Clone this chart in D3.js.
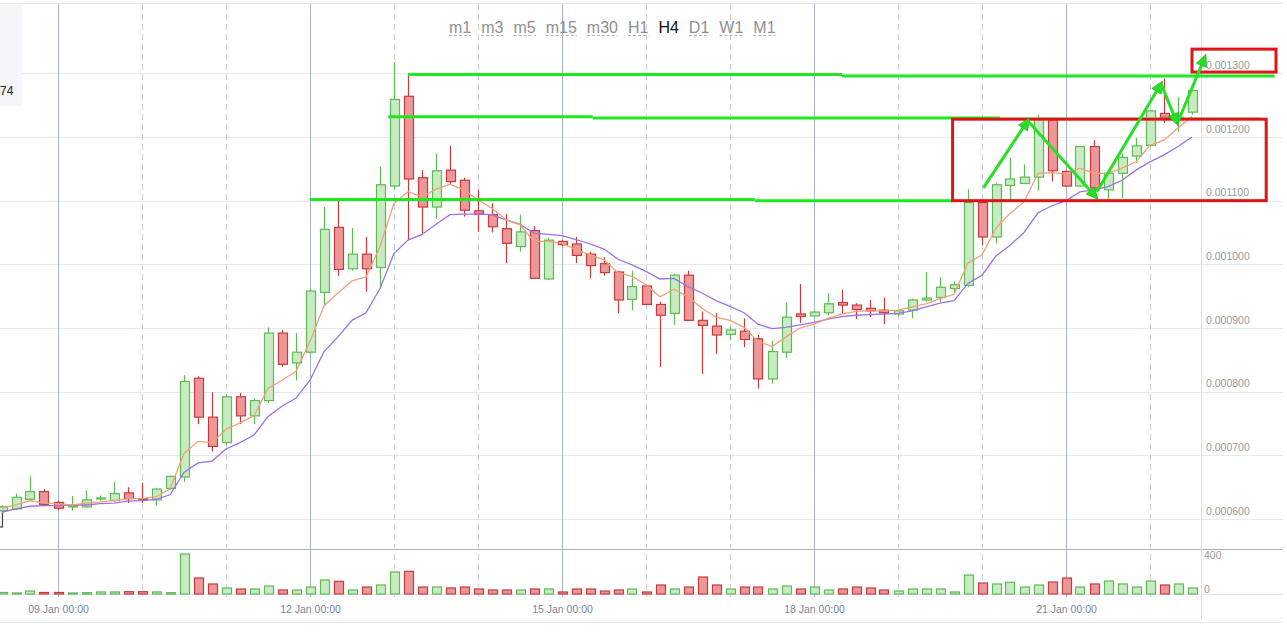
<!DOCTYPE html>
<html><head><meta charset="utf-8">
<script src="https://cdn.jsdelivr.net/npm/d3@7/dist/d3.min.js"></script>
<style>
html,body{margin:0;padding:0;background:#fff;overflow:hidden}
svg{display:block;font-family:"Liberation Sans",Arial,sans-serif}
</style></head><body>
<svg id="chart" width="1287" height="633"></svg>
<script>
// ---------- data (4H candles) ----------
const startTime = "2018-01-08T08:00:00Z";
const candleHours = 4;
const open = [0.000613,0.000616,0.000631,0.000643,0.000626,0.000619,0.000619,0.000632,0.000629,0.000641,0.000632,0.000630,0.000648,0.000666,0.000821,0.000760,0.000720,0.000792,0.000762,0.000786,0.000892,0.000845,0.000862,0.000956,0.001058,0.000993,0.001016,0.000995,0.001123,0.001264,0.001136,0.001090,0.001148,0.001132,0.001084,0.001078,0.001056,0.001028,0.001053,0.000977,0.001036,0.001032,0.001016,0.001001,0.000988,0.000945,0.000966,0.000937,0.000923,0.000983,0.000912,0.000903,0.000890,0.000895,0.000883,0.000820,0.000862,0.000922,0.000919,0.000924,0.000940,0.000936,0.000931,0.000928,0.000922,0.000928,0.000944,0.000948,0.000962,0.000967,0.001097,0.001043,0.001124,0.001127,0.001137,0.001227,0.001146,0.001123,0.001185,0.001117,0.001143,0.001170,0.001187,0.001237,0.001227,0.001239];
const high = [0.000622,0.000640,0.000667,0.000647,0.000629,0.000636,0.000645,0.000637,0.000658,0.000650,0.000657,0.000649,0.000668,0.000826,0.000824,0.000799,0.000795,0.000798,0.000789,0.000901,0.000897,0.000892,0.000961,0.001090,0.001101,0.001057,0.001043,0.001153,0.001318,0.001299,0.001148,0.001174,0.001186,0.001136,0.001117,0.001096,0.001079,0.001078,0.001060,0.001042,0.001038,0.001043,0.001020,0.001011,0.000989,0.000990,0.000967,0.000941,0.000985,0.000990,0.000926,0.000923,0.000902,0.000915,0.000889,0.000880,0.000940,0.000969,0.000927,0.000955,0.000960,0.000939,0.000944,0.000948,0.000928,0.000946,0.000988,0.000980,0.000973,0.001118,0.001099,0.001128,0.001168,0.001157,0.001235,0.001228,0.001147,0.001186,0.001195,0.001146,0.001174,0.001198,0.001242,0.001292,0.001263,0.001274];
const low = [0.000610,0.000614,0.000630,0.000620,0.000614,0.000613,0.000618,0.000629,0.000627,0.000625,0.000625,0.000621,0.000646,0.000658,0.000749,0.000706,0.000716,0.000749,0.000749,0.000782,0.000839,0.000818,0.000859,0.000935,0.000982,0.000990,0.000957,0.000962,0.001117,0.001039,0.001049,0.001071,0.001125,0.001075,0.001051,0.001050,0.001002,0.001020,0.000977,0.000975,0.001029,0.001002,0.000978,0.000982,0.000923,0.000928,0.000936,0.000839,0.000905,0.000911,0.000828,0.000859,0.000881,0.000870,0.000805,0.000813,0.000853,0.000908,0.000919,0.000920,0.000923,0.000914,0.000917,0.000906,0.000919,0.000915,0.000941,0.000941,0.000956,0.000964,0.001030,0.001033,0.001101,0.001126,0.001116,0.001130,0.001122,0.001122,0.001112,0.001101,0.001104,0.001159,0.001185,0.001222,0.001208,0.001235];
const close = [0.000619,0.000634,0.000643,0.000623,0.000617,0.000621,0.000630,0.000633,0.000640,0.000632,0.000630,0.000647,0.000667,0.000816,0.000760,0.000714,0.000792,0.000762,0.000786,0.000892,0.000843,0.000862,0.000958,0.001055,0.000992,0.001016,0.000993,0.001125,0.001259,0.001134,0.001090,0.001147,0.001130,0.001085,0.001079,0.001059,0.001033,0.001051,0.000978,0.001038,0.001031,0.001014,0.000998,0.000987,0.000944,0.000965,0.000937,0.000920,0.000983,0.000912,0.000904,0.000889,0.000897,0.000882,0.000820,0.000863,0.000917,0.000918,0.000925,0.000938,0.000936,0.000929,0.000927,0.000924,0.000927,0.000944,0.000947,0.000964,0.000968,0.001097,0.001043,0.001125,0.001134,0.001137,0.001229,0.001147,0.001123,0.001185,0.001120,0.001143,0.001168,0.001186,0.001241,0.001231,0.001231,0.001273];
const maFast = [0.000617,0.000622,0.000629,0.000625,0.000624,0.000622,0.000625,0.000627,0.000629,0.000632,0.000632,0.000635,0.000647,0.000703,0.000722,0.000720,0.000741,0.000751,0.000762,0.000805,0.000818,0.000832,0.000879,0.000935,0.000955,0.000974,0.000980,0.001028,0.001096,0.001114,0.001106,0.001118,0.001126,0.001117,0.001101,0.001088,0.001070,0.001062,0.001036,0.001036,0.001033,0.001023,0.001015,0.001007,0.000987,0.000981,0.000968,0.000949,0.000961,0.000949,0.000931,0.000917,0.000912,0.000901,0.000879,0.000871,0.000886,0.000900,0.000906,0.000915,0.000922,0.000926,0.000927,0.000927,0.000928,0.000933,0.000938,0.000946,0.000953,0.001002,0.001015,0.001057,0.001080,0.001098,0.001143,0.001144,0.001142,0.001151,0.001143,0.001143,0.001151,0.001161,0.001187,0.001195,0.001214,0.001232];
const maSlow = [0.000611,0.000616,0.000620,0.000621,0.000621,0.000622,0.000622,0.000624,0.000625,0.000628,0.000629,0.000631,0.000638,0.000673,0.000688,0.000691,0.000710,0.000720,0.000732,0.000761,0.000777,0.000790,0.000818,0.000863,0.000886,0.000912,0.000924,0.000962,0.001017,0.001038,0.001047,0.001063,0.001078,0.001079,0.001079,0.001078,0.001070,0.001063,0.001049,0.001047,0.001045,0.001039,0.001032,0.001024,0.001008,0.000999,0.000989,0.000977,0.000978,0.000965,0.000955,0.000943,0.000934,0.000924,0.000906,0.000899,0.000901,0.000905,0.000909,0.000914,0.000918,0.000920,0.000921,0.000922,0.000923,0.000927,0.000933,0.000939,0.000943,0.000970,0.000983,0.001013,0.001030,0.001050,0.001081,0.001092,0.001100,0.001114,0.001117,0.001122,0.001132,0.001148,0.001161,0.001172,0.001185,0.001200];
const volume = [18,12,35,18,18,12,15,24,24,27,27,24,15,470,188,118,71,59,59,94,47,47,82,165,149,47,82,106,259,267,82,82,71,82,59,47,47,47,59,59,24,59,59,35,47,59,24,106,59,82,200,106,59,82,82,59,94,59,82,47,59,82,71,47,35,59,59,59,24,223,129,118,138,82,106,141,188,82,118,153,118,82,153,106,118,71];

const priceTicks = [0.0006,0.0007,0.0008,0.0009,0.0010,0.0011,0.0012,0.0013];
const volumeTicks = [0, 400];
const dateTicks = ["2018-01-09T00:00:00Z","2018-01-12T00:00:00Z","2018-01-15T00:00:00Z","2018-01-18T00:00:00Z","2018-01-21T00:00:00Z"];
const timeframes = ["m1","m3","m5","m15","m30","H1","H4","D1","W1","M1"];
const activeTimeframe = "H4";
// annotations: candle index positions (fractional, 0 = first candle) and prices
const levelLines = [
  {from:29.0, to:60.0, price:0.001298},
  {from:60.0, to:90.9, price:0.001296},
  {from:27.6, to:42.2, price:0.001232},
  {from:42.2, to:71.3, price:0.001230},
  {from:22.0, to:53.8, price:0.001102},
  {from:53.8, to:67.9, price:0.001100}
];
const faintLevel = {from:71.3, to:89.8, price:0.001230};
const boxes = [
  {from:67.9, to:90.3, top:0.001228, bottom:0.001100},
  {from:85.0, to:91.0, top:0.001338, bottom:0.001302}
];
const arrows = [
  {k0:70.1, p0:0.001120, k1:73.4, p1:0.001230},
  {k0:73.2, p0:0.001227, k1:78.3, p1:0.001102},
  {k0:78.2, p0:0.001114, k1:82.9, p1:0.001288},
  {k0:82.8, p0:0.001283, k1:84.0, p1:0.001218},
  {k0:84.0, p0:0.001224, k1:86.0, p1:0.001330}
];

// ---------- scales ----------
const svg = d3.select("#chart");
const t0 = new Date(startTime);
const timeAt = k => new Date(+t0 + k * candleHours * 3600e3);
const candles = open.map((o, i) => ({t: timeAt(i), o, h: high[i], l: low[i], c: close[i], v: volume[i], f: maFast[i], s: maSlow[i]}));

const x = d3.scaleUtc().domain([new Date(dateTicks[0]), new Date(dateTicks[4])]).range([58, 1066]);
const y = d3.scaleLinear().domain([0.0006, 0.0012]).range([519, 137]);
const yv = d3.scaleLinear().domain([0, 400]).range([594, 560]);
const xk = k => x(timeAt(k));

const plotRight = 1201, gridRight = 1282;
const greenFill = "#c8ebc2", greenStroke = "#5fba57", redFill = "#ec9898", redStroke = "#c93a3c";

// ---------- background & grid ----------
const g = svg.append("g");
g.append("line").attr("x1",0).attr("x2",gridRight).attr("y1",3.5).attr("y2",3.5).attr("stroke","#e4e7ec");
g.selectAll(".hgrid").data(priceTicks).join("line")
  .attr("x1",0).attr("x2",gridRight).attr("y1",d=>Math.round(y(d))+0.5).attr("y2",d=>Math.round(y(d))+0.5)
  .attr("stroke","#e5e8ed");
g.append("line").attr("x1",0).attr("x2",gridRight).attr("y1",yv(0)+0.5).attr("y2",yv(0)+0.5).attr("stroke","#e5e8ed");
g.append("line").attr("x1",0).attr("x2",gridRight).attr("y1",549.5).attr("y2",549.5).attr("stroke","#a9b2c3");
g.append("line").attr("x1",0).attr("x2",gridRight).attr("y1",622.5).attr("y2",622.5).attr("stroke","#e2e5ea");
g.append("line").attr("x1",plotRight+0.5).attr("x2",plotRight+0.5).attr("y1",3).attr("y2",619).attr("stroke","#dde1e8");

const days = d3.utcDay.range(new Date("2018-01-09T00:00:00Z"), new Date("2018-01-23T00:00:00Z"));
g.selectAll(".vgrid").data(days).join("line")
  .attr("x1",d=>Math.round(x(d))+0.5).attr("x2",d=>Math.round(x(d))+0.5)
  .attr("y1",4).attr("y2",597)
  .attr("stroke",(d,i)=> i%3===0 ? "#aab3c5" : "#ccd1db")
  .attr("stroke-dasharray",(d,i)=> i%3===0 ? null : "6,4");

// top-left cropped label
g.append("rect").attr("x",0).attr("y",5).attr("width",22).attr("height",101).attr("fill","#f4f6f9");
g.append("text").attr("x",0).attr("y",95).attr("font-size",12).attr("fill","#222").text("74");
// cropped tooltip box at left
g.append("rect").attr("x",-8).attr("y",507).attr("width",10.5).attr("height",20).attr("fill","#f5f5f5").attr("stroke","#444").attr("stroke-width",1.2);

// ---------- volume ----------
const bw = 9;
svg.append("g").selectAll("rect").data(candles).join("rect")
  .attr("x",d=>Math.round(x(d.t)-bw/2)+0.5).attr("width",bw)
  .attr("y",d=>yv(d.v)).attr("height",d=>Math.max(0.5,yv(0)-yv(d.v)))
  .attr("fill",d=>d.c>=d.o?greenFill:redFill)
  .attr("stroke",d=>d.c>=d.o?greenStroke:redStroke).attr("stroke-width",1.2);

// ---------- candles ----------
const cg = svg.append("g");
cg.selectAll("line").data(candles).join("line")
  .attr("x1",d=>Math.round(x(d.t))+0.5).attr("x2",d=>Math.round(x(d.t))+0.5)
  .attr("y1",d=>y(d.h)).attr("y2",d=>y(d.l))
  .attr("stroke",d=>d.c>=d.o?greenStroke:redStroke).attr("stroke-width",1.2);
cg.selectAll("rect").data(candles).join("rect")
  .attr("x",d=>Math.round(x(d.t)-bw/2)+0.5).attr("width",bw)
  .attr("y",d=>y(Math.max(d.o,d.c))).attr("height",d=>Math.max(1,Math.abs(y(d.o)-y(d.c))))
  .attr("fill",d=>d.c>=d.o?greenFill:redFill)
  .attr("stroke",d=>d.c>=d.o?greenStroke:redStroke).attr("stroke-width",1.2);

// ---------- moving averages ----------
const lineFast = d3.line().x(d=>x(d.t)).y(d=>y(d.f));
const lineSlow = d3.line().x(d=>x(d.t)).y(d=>y(d.s));
svg.append("path").datum(candles).attr("d",lineSlow).attr("fill","none").attr("stroke","#9a72e6").attr("stroke-width",1.3);
svg.append("path").datum(candles).attr("d",lineFast).attr("fill","none").attr("stroke","#f2a077").attr("stroke-width",1.3);

// ---------- annotations ----------
const ag = svg.append("g");
ag.append("line").attr("x1",xk(faintLevel.from)).attr("x2",xk(faintLevel.to))
  .attr("y1",y(faintLevel.price)).attr("y2",y(faintLevel.price))
  .attr("stroke","#7fe87f").attr("stroke-width",1.5).attr("opacity",0.8);
ag.selectAll(".lvl").data(levelLines).join("line")
  .attr("x1",d=>xk(d.from)).attr("x2",d=>xk(d.to))
  .attr("y1",d=>y(d.price)).attr("y2",d=>y(d.price))
  .attr("stroke","#1ee81e").attr("stroke-width",3);
ag.selectAll(".box").data(boxes).join("rect")
  .attr("x",d=>xk(d.from)).attr("width",d=>xk(d.to)-xk(d.from))
  .attr("y",d=>y(d.top)).attr("height",d=>y(d.bottom)-y(d.top))
  .attr("fill","none").attr("stroke","#e01414").attr("stroke-width",3);

arrows.forEach(a => {
  const x0 = xk(a.k0), y0 = y(a.p0), x1 = xk(a.k1), y1 = y(a.p1);
  const ang = Math.atan2(y1-y0, x1-x0);
  const len = 12, wid = 5.5;
  const bx = x1 - len*Math.cos(ang), by = y1 - len*Math.sin(ang);
  ag.append("line").attr("x1",x0).attr("y1",y0).attr("x2",bx).attr("y2",by)
    .attr("stroke","#26e026").attr("stroke-width",3);
  const px = -Math.sin(ang), py = Math.cos(ang);
  ag.append("path")
    .attr("d",`M${x1},${y1}L${bx+px*wid},${by+py*wid}L${bx-px*wid},${by-py*wid}Z`)
    .attr("fill","#26e026").attr("stroke","#1a9a1a").attr("stroke-width",0.6);
});

// ---------- axes ----------
const xAxis = d3.axisBottom(x).tickValues(dateTicks.map(d=>new Date(d)))
  .tickFormat(d3.utcFormat("%d %b %H:%M")).tickSize(0).tickPadding(0);
const xa = svg.append("g").attr("transform","translate(0,613)").call(xAxis);
xa.select(".domain").remove();
xa.selectAll("text").attr("dy",null).attr("y",0).attr("fill","#7b8598").attr("font-size",10.5)
  .attr("font-family","'Liberation Sans',Arial,sans-serif");

const yAxis = d3.axisRight(y).tickValues(priceTicks).tickFormat(d3.format(".6f")).tickSize(0).tickPadding(0);
const ya = svg.append("g").attr("transform","translate(1206,0)").call(yAxis);
ya.select(".domain").remove();
ya.selectAll("text").attr("dy",null).attr("x",0).attr("y",-5).attr("fill","#9a9a9a").attr("font-size",10.5)
  .attr("font-family","'Liberation Sans',Arial,sans-serif");

const vAxis = d3.axisRight(yv).tickValues(volumeTicks).tickFormat(d3.format("d")).tickSize(0).tickPadding(0);
const va = svg.append("g").attr("transform","translate(1204,0)").call(vAxis);
va.select(".domain").remove();
va.selectAll("text").attr("dy",null).attr("x",0).attr("y",-1.5).attr("fill","#9a9a9a").attr("font-size",10.5)
  .attr("font-family","'Liberation Sans',Arial,sans-serif");

// ---------- timeframe toolbar ----------
const tb = svg.append("g");
let tx = 449;
timeframes.forEach(tf => {
  const active = tf === activeTimeframe;
  const t = tb.append("text").attr("x",tx).attr("y",33).attr("font-size",16)
    .attr("fill", active ? "#111" : "#8f8f8f").text(tf);
  const w = t.node().getComputedTextLength();
  if (!active) {
    tb.append("line").attr("x1",tx).attr("x2",tx+w).attr("y1",35.5).attr("y2",35.5)
      .attr("stroke","#b5b5b5").attr("stroke-dasharray","3,2");
  }
  tx += w + 10;
});
</script>
</body></html>
